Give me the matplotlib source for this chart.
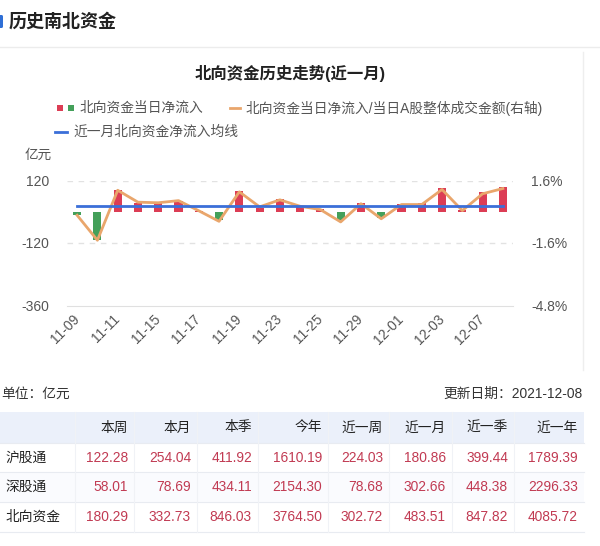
import numpy as np
import matplotlib
matplotlib.use('Agg')
import matplotlib.pyplot as plt
from matplotlib.patches import Rectangle, FancyBboxPatch

plt.rcParams['font.family'] = ['Liberation Sans', 'Noto Sans CJK SC']

#%% data
dates = ['11-09', '11-10', '11-11', '11-12', '11-15', '11-16', '11-17', '11-18',
         '11-19', '11-22', '11-23', '11-24', '11-25', '11-26', '11-29', '11-30',
         '12-01', '12-02', '12-03', '12-06', '12-07', '12-08']
# 北向资金当日净流入 (亿元)
net_inflow = [-12, -108, 85, 33, 33, 40, 3, -30, 81, 14, 48, 22, 9, -30,
              32, -24, 30, 32, 90, 8, 77, 95]
# 当日净流入/当日A股成交额 (%)
ratio = [-0.18, -1.46, 1.10, 0.49, 0.46, 0.57, 0.05, -0.49, 1.02, 0.25, 0.61,
         0.28, 0.11, -0.52, 0.41, -0.36, 0.37, 0.37, 1.14, 0.06, 0.92, 1.19]
month_avg = 21.98

left_ticks = [-360, -120, 120]
left_labels = ['-360', '-120', '120']
right_ticks = [-4.8, -1.6, 1.6]
right_labels = ['-4.8%', '-1.6%', '1.6%']

col_names = ['本周', '本月', '本季', '今年', '近一周', '近一月', '近一季', '近一年']
row_names = ['沪股通', '深股通', '北向资金']
sh_vals = [122.28, 254.04, 411.92, 1610.19, 224.03, 180.86, 399.44, 1789.39]
sz_vals = [58.01, 78.69, 434.11, 2154.30, 78.68, 302.66, 448.38, 2296.33]
north_vals = [180.29, 332.73, 846.03, 3764.50, 302.72, 483.51, 847.82, 4085.72]

#%% figure
W, H = 600, 546
fig = plt.figure(figsize=(W / 100, H / 100), dpi=100)
fig.patch.set_facecolor('white')

# overlay in pixel coordinates for header, legend and table
bg = fig.add_axes([0, 0, 1, 1])
bg.set_xlim(0, W)
bg.set_ylim(H, 0)
bg.axis('off')

# header
bg.add_patch(FancyBboxPatch((-2, 15), 5, 13, boxstyle='round,pad=0,rounding_size=1.5',
                            fc='#2f6fd6', ec='none'))
bg.text(9, 21.5, '历史南北资金', fontsize=13, fontweight='bold', color='#222',
        ha='left', va='center')
bg.plot([0, W], [47, 47], color='#ececec', lw=1)

# chart panel border (right side)
bg.plot([583, 583], [52, 370], color='#eeeeee', lw=1)

# chart title + legend
bg.text(290, 74, '北向资金历史走势(近一月)', fontsize=11.8, fontweight='bold',
        color='#222', ha='center', va='center')
red, green = '#dc3d55', '#44a05a'
orange, blue = '#e9a66c', '#3b6fd8'
bg.add_patch(Rectangle((57, 105), 6, 6, fc=red, ec='none'))
bg.add_patch(Rectangle((68, 105), 6, 6, fc=green, ec='none'))
bg.text(80, 108, '北向资金当日净流入', fontsize=9.9, color='#555', va='center')
bg.plot([230, 240], [108, 108], color=orange, lw=2)
bg.text(246, 108, '北向资金当日净流入/当日A股整体成交金额(右轴)', fontsize=9.9,
        color='#555', va='center')
bg.plot([55, 67], [132, 132], color=blue, lw=2)
bg.text(73, 132, '近一月北向资金净流入均线', fontsize=9.9, color='#555', va='center')
bg.text(25, 155, '亿元', fontsize=9.8, color='#555', va='center')

#%% chart
ax = fig.add_axes([67 / W, 1 - 305.5 / H, 446 / W, 125 / H])
ax.set_facecolor('none')
x = np.arange(len(dates))
colors = [red if v >= 0 else green for v in net_inflow]
ax.bar(x, net_inflow, width=0.4, color=colors, zorder=2)
ax.set_xlim(-0.5, len(dates) - 0.5)
ax.set_ylim(-360, 120)
ax.set_yticks(left_ticks)
ax.set_yticklabels(left_labels)
for t in [-120, 120]:
    ax.axhline(t, color='#e2e2e2', lw=1, ls=(0, (4, 4)), zorder=0)
for s in ['top', 'right', 'left']:
    ax.spines[s].set_visible(False)
ax.spines['bottom'].set_color('#e0e0e0')
ax.tick_params(axis='y', length=0, pad=13, labelsize=10, labelcolor='#555')
ax.set_xticks(x[::2])
ax.set_xticklabels(dates[::2], rotation=45, ha='right', va='center',
                   rotation_mode='anchor')
ax.tick_params(axis='x', length=0, pad=8, labelsize=10, labelcolor='#555')

ax2 = ax.twinx()
ax2.plot(x, ratio, color=orange, lw=2, zorder=3)
ax2.plot(x, [month_avg] * len(x), color=blue, lw=2, zorder=4,
         transform=ax.transData)
ax2.set_ylim(-4.8, 1.6)
ax2.set_yticks(right_ticks)
ax2.set_yticklabels(right_labels)
for s in ax2.spines.values():
    s.set_visible(False)
ax2.tick_params(axis='y', length=0, pad=13, labelsize=10, labelcolor='#555')
ax2.set_xlim(-0.5, len(dates) - 0.5)

#%% table
bg.text(1, 394, '单位：亿元', fontsize=9.9, color='#333', va='center')
bg.text(583, 394, '更新日期：2021-12-08', fontsize=9.9, color='#333',
        ha='right', va='center')

edges = [0, 75, 134, 197, 258, 328, 389, 452, 514, 584]
row_tops = [412, 443, 472, 502, 532]
bg.add_patch(Rectangle((0, row_tops[0]), edges[-1], row_tops[1] - row_tops[0],
                       fc='#ebf0fa', ec='none'))
bg.add_patch(Rectangle((0, row_tops[2]), edges[-1], row_tops[3] - row_tops[2],
                       fc='#fafbfe', ec='none'))
for yy in row_tops[1:]:
    bg.plot([0, edges[-1]], [yy, yy], color='#e8ebf1', lw=0.8)
for xx in edges[1:-1]:
    bg.plot([xx, xx], [row_tops[0], row_tops[-1]], color='#f0f2f6', lw=0.8)

for j, name in enumerate(col_names):
    bg.text(edges[j + 2] - 6, (row_tops[0] + row_tops[1]) / 2, name,
            fontsize=9.9, color='#222', ha='right', va='center')

for i, (name, vals) in enumerate(zip(row_names, [sh_vals, sz_vals, north_vals])):
    yc = (row_tops[i + 1] + row_tops[i + 2]) / 2
    bg.text(6, yc, name, fontsize=9.9, color='#222', ha='left', va='center')
    for j, v in enumerate(vals):
        bg.text(edges[j + 2] - 6, yc, f'{v:.2f}', fontsize=9.9, color='#c13a52',
                ha='right', va='center')

fig.savefig('out.png', dpi=100, facecolor='white')
